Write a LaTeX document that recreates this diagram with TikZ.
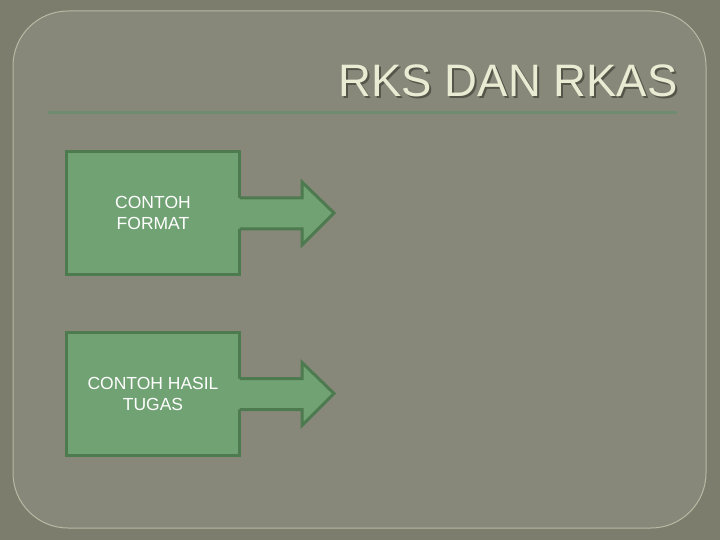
\documentclass[tikz,border=0pt]{standalone}
\usepackage{fontspec}
\setmainfont{Liberation Sans}
\usetikzlibrary{calc}

\definecolor{outerbg}{HTML}{7C7D6D}
\definecolor{panelbg}{HTML}{87887A}
\definecolor{panelline}{HTML}{B9BAA3}
\definecolor{rulegreen}{HTML}{6F8C70}
\definecolor{titletext}{HTML}{EAEBD3}
\definecolor{titleshade}{HTML}{55564A}
\definecolor{boxfill}{HTML}{70A273}
\definecolor{boxline}{HTML}{4E7A4F}

\newcommand{\shadowtext}[1]{\makebox[0pt][l]{\hspace{2pt}\raisebox{-2pt}{\color{titleshade}#1}}#1}

\tikzset{
  item/.style={draw=boxline, fill=boxfill, line width=3pt, minimum width=173pt,
    minimum height=123pt, align=center, text=white, font=\fontsize{17.5}{21}\selectfont},
}

\begin{document}
\begin{tikzpicture}[x=1pt,y=-1pt]
  % background
  \fill[outerbg] (0,0) rectangle (720,540);
  \useasboundingbox (0,0) rectangle (720,540);
  \draw[panelline, fill=panelbg, line width=1pt, rounded corners=55pt] (13,11) rectangle (706,528);
  \draw[rulegreen, line width=3pt] (48,113) -- (677,113);

  \node[anchor=base east, font=\fontsize{45.5}{48}\selectfont, text=titletext] (title) at (681,97) {\shadowtext{RKS DAN RKAS}};

  \node[item] (format) at (153,213) {CONTOH\\FORMAT};
  \node[item] (hasil) at (153,393.5) {CONTOH HASIL\\TUGAS};

  % arrows
  \foreach \b in {format, hasil} {
    \fill[boxfill] ($(\b.east)+(-3,-15)$) -- ++(64,0) -- ++(0,-16) -- ++(32,31) -- ++(-32,32) -- ++(0,-16) -- ++(-64,0) -- cycle;
    \draw[boxline, line width=3pt, line join=miter] ($(\b.east)+(-1.5,-15)$) -- ++(62.5,0) -- ++(0,-16) -- ++(32,31) -- ++(-32,32) -- ++(0,-16) -- ++(-62.5,0);
  }
\end{tikzpicture}
\end{document}
